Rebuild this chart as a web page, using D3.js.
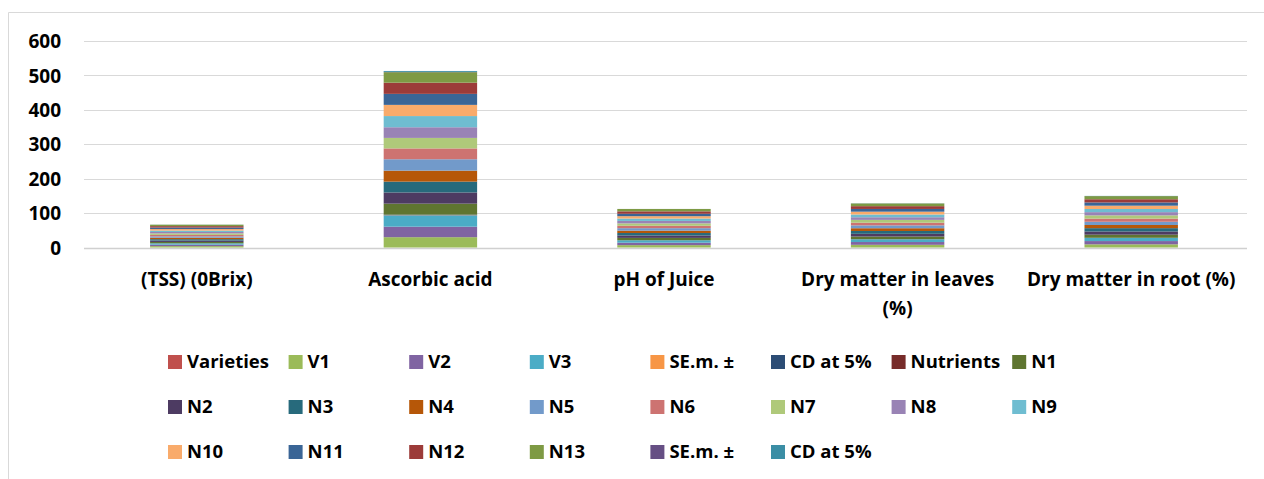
<!DOCTYPE html>
<html>
<head>
<meta charset="utf-8">
<script src="https://cdn.jsdelivr.net/npm/d3@7"></script>
<style>
  body { margin: 0; background: #fff; }
  text { font-family: "Open Sans", sans-serif; font-weight: bold; fill: #000; }
</style>
</head>
<body>
<div id="chart"></div>
<script>
var width = 1264;
var height = 479;

// categories on the x axis
var categories = ["(TSS) (0Brix)", "Ascorbic acid", "pH of Juice", "Dry matter in leaves (%)", "Dry matter in root (%)"];

// series (legend order, stacked bottom to top)
var seriesNames = ["Varieties", "V1", "V2", "V3", "SE.m. \u00b1", "CD at 5%", "Nutrients",
  "N1", "N2", "N3", "N4", "N5", "N6", "N7", "N8", "N9", "N10", "N11", "N12", "N13", "SE.m. \u00b1", "CD at 5%"];

var seriesColors = ["#C0504D", "#9BBB59", "#8064A2", "#4BACC6", "#F79646", "#2C4D75", "#772C2A",
  "#5F7530", "#4D3B62", "#276A7C", "#B65708", "#729ACA", "#CD7371", "#AFC97A", "#9983B5",
  "#6FBDD1", "#F9AB6B", "#3A6596", "#9C3B39", "#7E9A44", "#664F84", "#3B8EA5"];

// values per category, one per series
var tss      = [0, 4.0, 4.2, 3.9, 0.05, 0.15, 0, 3.8, 4.0, 4.1, 4.3, 3.9, 4.2, 4.4, 4.1, 4.0, 4.5, 4.3, 4.2, 4.1, 0.08, 0.22];
var ascorbic = [0, 30.0, 30.5, 32.5, 0.6, 1.8, 0, 32.0, 32.5, 31.5, 32.0, 33.0, 31.5, 30.5, 31.0, 32.5, 32.5, 32.0, 32.5, 30.5, 0.9, 2.6];
var ph       = [0, 6.9, 7.1, 7.0, 0.04, 0.12, 0, 6.8, 7.0, 7.1, 6.9, 7.2, 7.0, 6.9, 7.1, 7.0, 6.8, 7.1, 7.0, 6.9, 0.03, 0.07];
var dmLeaves = [0, 7.8, 8.1, 8.0, 0.1, 0.3, 0, 7.6, 7.9, 8.2, 8.0, 8.3, 7.8, 8.1, 7.7, 8.0, 8.2, 7.9, 8.1, 7.8, 0.15, 0.35];
var dmRoot   = [0, 9.2, 9.5, 9.1, 0.1, 0.4, 0, 9.0, 9.3, 9.6, 9.2, 9.4, 9.1, 9.5, 9.3, 9.2, 9.6, 9.4, 9.3, 9.1, 0.2, 0.4];

var yTicks = [0, 100, 200, 300, 400, 500, 600];

var allValues = [tss, ascorbic, ph, dmLeaves, dmRoot];

// build table for d3.stack, keys are series indexes because names repeat
var keys = seriesNames.map(function(d, i){ return "s" + i; });
var table = categories.map(function(c, ci){
    var row = {category: c};
    for (var i = 0; i < keys.length; i++) {
        row[keys[i]] = allValues[ci][i];
    }
    return row;
});

var svg = d3.select("#chart").append("svg").attr("width", width).attr("height", height);

// chart frame
svg.append("path")
    .attr("d", "M8.5," + height + "V12.5H" + width)
    .attr("fill", "none")
    .attr("stroke", "#d9d9d9")
    .attr("stroke-width", 1);

var x = d3.scaleBand().domain(categories).range([80, 1248]).paddingInner(0.6).paddingOuter(0.3);
var y = d3.scaleLinear().domain([0, 600]).range([247.5, 41]);

// gridlines
svg.append("g")
    .selectAll("line")
    .data(yTicks)
    .enter().append("line")
    .attr("x1", 84).attr("x2", 1247)
    .attr("y1", function(d){ return Math.round(y(d)) + 0.5; })
    .attr("y2", function(d){ return Math.round(y(d)) + 0.5; })
    .attr("stroke", function(d){ return d === 0 ? "#d0d0d0" : "#d9d9d9"; })
    .attr("stroke-width", function(d){ return d === 0 ? 1.5 : 1; });

// y axis labels
var yAxis = d3.axisLeft(y).tickValues(yTicks).tickSize(0).tickPadding(0);
var yg = svg.append("g").attr("transform", "translate(61,0)").call(yAxis);
yg.select(".domain").remove();
yg.selectAll("text").style("font-size", "19px").attr("dy", "0.35em").attr("fill", "#000");

// stacked bars
var stack = d3.stack().keys(keys);
var layers = stack(table);

svg.append("g")
    .selectAll("g")
    .data(layers)
    .enter().append("g")
    .attr("fill", function(d, i){ return seriesColors[i]; })
    .selectAll("rect")
    .data(function(d){ return d; })
    .enter().append("rect")
    .attr("x", function(d){ return x(d.data.category); })
    .attr("width", x.bandwidth())
    .attr("y", function(d){ return y(d[1]); })
    .attr("height", function(d){ return Math.max(0, y(d[0]) - y(d[1])); });

// category labels (wrapped)
function wrapLabel(c) {
    if (c === "Dry matter in leaves (%)") return ["Dry matter in leaves", "(%)"];
    return [c];
}
var catG = svg.append("g");
categories.forEach(function(c){
    var lines = wrapLabel(c);
    lines.forEach(function(l, li){
        catG.append("text")
            .attr("x", x(c) + x.bandwidth() / 2)
            .attr("y", 286 + li * 29)
            .attr("text-anchor", "middle")
            .style("font-size", "19px")
            .text(l);
    });
});

// legend
var legendX0 = 168, legendStep = 120.6, rowY = [362, 407, 452];
var legend = svg.append("g");
seriesNames.forEach(function(name, i){
    var col = i % 8, row = Math.floor(i / 8);
    var lx = legendX0 + col * legendStep;
    var ly = rowY[row];
    legend.append("rect")
        .attr("x", lx).attr("y", ly - 7)
        .attr("width", 14).attr("height", 14)
        .attr("fill", seriesColors[i]);
    legend.append("text")
        .attr("x", lx + 19).attr("y", ly)
        .attr("dy", "0.35em")
        .style("font-size", "18.5px")
        .text(name);
});
</script>
</body>
</html>
